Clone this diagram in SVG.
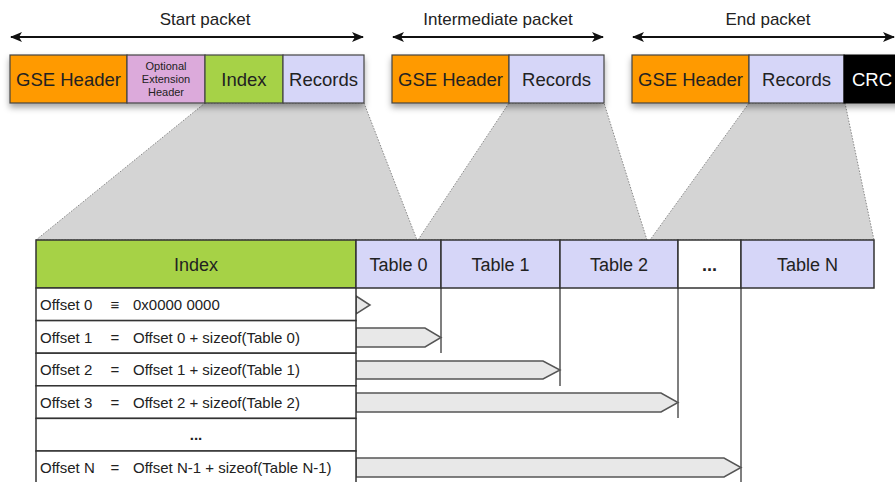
<svg xmlns="http://www.w3.org/2000/svg" width="895" height="482" viewBox="0 0 895 482">
<style>
  text { font-family: "Liberation Sans", Arial, sans-serif; fill: #222; }
  .t17 { font-size: 17px; text-anchor: middle; }
  .t18 { font-size: 18.5px; text-anchor: middle; }
  .th { font-size: 18px; text-anchor: middle; }
  .t11 { font-size: 11px; text-anchor: middle; }
  .t14 { font-size: 15px; }
  .mid { text-anchor: middle; }
  .blk { stroke: #444; stroke-width: 1.2; }
  .cell { stroke: #333; stroke-width: 1.5; }
  .zoomarea { fill: #d4d4d4; stroke: #8a8a8a; stroke-width: 1; stroke-dasharray: 1.5 1.5; }
  .span { stroke: #111; stroke-width: 2; fill: none; marker-start: url(#ah); marker-end: url(#ah); }
  .ptr { fill: #e8e8e8; stroke: #555; stroke-width: 1.5; stroke-linejoin: miter; }
  .vline { stroke: #555; stroke-width: 1.5; fill: none; }
  .orange { fill: #ff9a00; }
  .pink { fill: #dcaadb; }
  .green { fill: #a6d246; }
  .lav { fill: #d6d6f8; }
</style>
<defs>
  <marker id="ah" viewBox="0 0 12 10" refX="11" refY="5" markerWidth="12" markerHeight="10" markerUnits="userSpaceOnUse" orient="auto-start-reverse">
    <path d="M0,0 L12,5 L0,10 L3,5 Z" fill="#111"/>
  </marker>
  <filter id="shadow" x="-5%" y="-20%" width="110%" height="160%">
    <feDropShadow dx="0" dy="4" stdDeviation="3" flood-color="#000" flood-opacity="0.35"/>
  </filter>
</defs>
<rect width="895" height="482" fill="#fff"/>

<g id="connectors">
  <polygon class="zoomarea" points="205,103 364,103 417,240 36,240"/>
  <polygon class="zoomarea" points="509,103 604,103 647,240 418,240"/>
  <polygon class="zoomarea" points="749,103 845,103 874,240 650,240"/>
  <line class="span" x1="11" y1="37" x2="363" y2="37"/>
  <line class="span" x1="393" y1="37" x2="603" y2="37"/>
  <line class="span" x1="633" y1="37" x2="894" y2="37"/>
  <line class="vline" x1="441" y1="288" x2="441" y2="353"/>
  <line class="vline" x1="560" y1="288" x2="560" y2="386"/>
  <line class="vline" x1="678" y1="288" x2="678" y2="418"/>
  <line class="vline" x1="741" y1="288" x2="741" y2="484"/>
  <polygon class="ptr" points="356,296 370,305 356,314"/>
  <polygon class="ptr" points="356,328 425,328 441,337.5 425,347 356,347"/>
  <polygon class="ptr" points="356,361 543,361 560,370 543,379 356,379"/>
  <polygon class="ptr" points="356,393 661,393 678,402.5 661,412 356,412"/>
  <polygon class="ptr" points="356,458 724,458 741,467.5 724,477 356,477"/>
</g>

<g id="label-start">
  <text class="t17" x="205" y="25">Start packet</text>
</g>
<g id="label-intermediate">
  <text class="t17" x="498" y="25">Intermediate packet</text>
</g>
<g id="label-end">
  <text class="t17" x="768" y="25">End packet</text>
</g>

<g id="start-packet" filter="url(#shadow)">
  <rect class="blk orange" x="10" y="55" width="117" height="48"/>
  <rect class="blk pink" x="127" y="55" width="78" height="48"/>
  <rect class="blk green" x="205" y="55" width="78" height="48"/>
  <rect class="blk lav" x="283" y="55" width="81" height="48"/>
</g>
<g id="start-packet-text">
  <text class="t18" x="68.5" y="86">GSE Header</text>
  <text class="t11" x="166" y="70">Optional</text>
  <text class="t11" x="166" y="83">Extension</text>
  <text class="t11" x="166" y="96">Header</text>
  <text class="t18" x="244" y="86">Index</text>
  <text class="t18" x="323.5" y="86">Records</text>
</g>

<g id="intermediate-packet" filter="url(#shadow)">
  <rect class="blk orange" x="392" y="55" width="117" height="48"/>
  <rect class="blk lav" x="509" y="55" width="95" height="48"/>
</g>
<g id="intermediate-packet-text">
  <text class="t18" x="450.5" y="86">GSE Header</text>
  <text class="t18" x="556.5" y="86">Records</text>
</g>

<g id="end-packet" filter="url(#shadow)">
  <rect class="blk orange" x="632" y="55" width="117" height="48"/>
  <rect class="blk lav" x="749" y="55" width="95" height="48"/>
  <rect x="844" y="55" width="60" height="48" fill="#000" stroke="#000"/>
</g>
<g id="end-packet-text">
  <text class="t18" x="690.5" y="86">GSE Header</text>
  <text class="t18" x="796.5" y="86">Records</text>
  <text class="t18" x="852" y="86" style="text-anchor:start;fill:#fff">CRC</text>
</g>

<g id="index-table">
  <rect class="cell green" x="36" y="240" width="320" height="48"/>
  <text class="th" x="196" y="271">Index</text>
  <rect class="cell" fill="#fff" x="36" y="288" width="320" height="32.6"/>
  <rect class="cell" fill="#fff" x="36" y="320.6" width="320" height="32.6"/>
  <rect class="cell" fill="#fff" x="36" y="353.2" width="320" height="32.6"/>
  <rect class="cell" fill="#fff" x="36" y="385.8" width="320" height="32.6"/>
  <rect class="cell" fill="#fff" x="36" y="418.4" width="320" height="32.6"/>
  <rect class="cell" fill="#fff" x="36" y="451" width="320" height="34"/>
  <text class="t14" x="40" y="310">Offset 0</text>
  <text class="t14 mid" x="115" y="310">≡</text>
  <text class="t14" x="133" y="310">0x0000 0000</text>
  <text class="t14" x="40" y="342.5">Offset 1</text>
  <text class="t14 mid" x="115" y="342.5">=</text>
  <text class="t14" x="133" y="342.5">Offset 0 + sizeof(Table 0)</text>
  <text class="t14" x="40" y="375">Offset 2</text>
  <text class="t14 mid" x="115" y="375">=</text>
  <text class="t14" x="133" y="375">Offset 1 + sizeof(Table 1)</text>
  <text class="t14" x="40" y="407.5">Offset 3</text>
  <text class="t14 mid" x="115" y="407.5">=</text>
  <text class="t14" x="133" y="407.5">Offset 2 + sizeof(Table 2)</text>
  <text class="t14 mid" x="196" y="440" font-weight="bold">...</text>
  <text class="t14" x="40" y="472.5">Offset N</text>
  <text class="t14 mid" x="115" y="472.5">=</text>
  <text class="t14" x="133" y="472.5">Offset N-1 + sizeof(Table N-1)</text>
</g>

<g id="table-0">
  <rect class="cell lav" x="356" y="240" width="85" height="48"/>
  <text class="th" x="398.5" y="271">Table 0</text>
</g>
<g id="table-1">
  <rect class="cell lav" x="441" y="240" width="119" height="48"/>
  <text class="th" x="500.5" y="271">Table 1</text>
</g>
<g id="table-2">
  <rect class="cell lav" x="560" y="240" width="118" height="48"/>
  <text class="th" x="619" y="271">Table 2</text>
</g>
<g id="table-dots">
  <rect class="cell" fill="#fff" x="678" y="240" width="63" height="48"/>
  <text class="th" x="709.5" y="271" font-weight="bold">...</text>
</g>
<g id="table-n">
  <rect class="cell lav" x="741" y="240" width="133" height="48"/>
  <text class="th" x="807.5" y="271">Table N</text>
</g>
</svg>
